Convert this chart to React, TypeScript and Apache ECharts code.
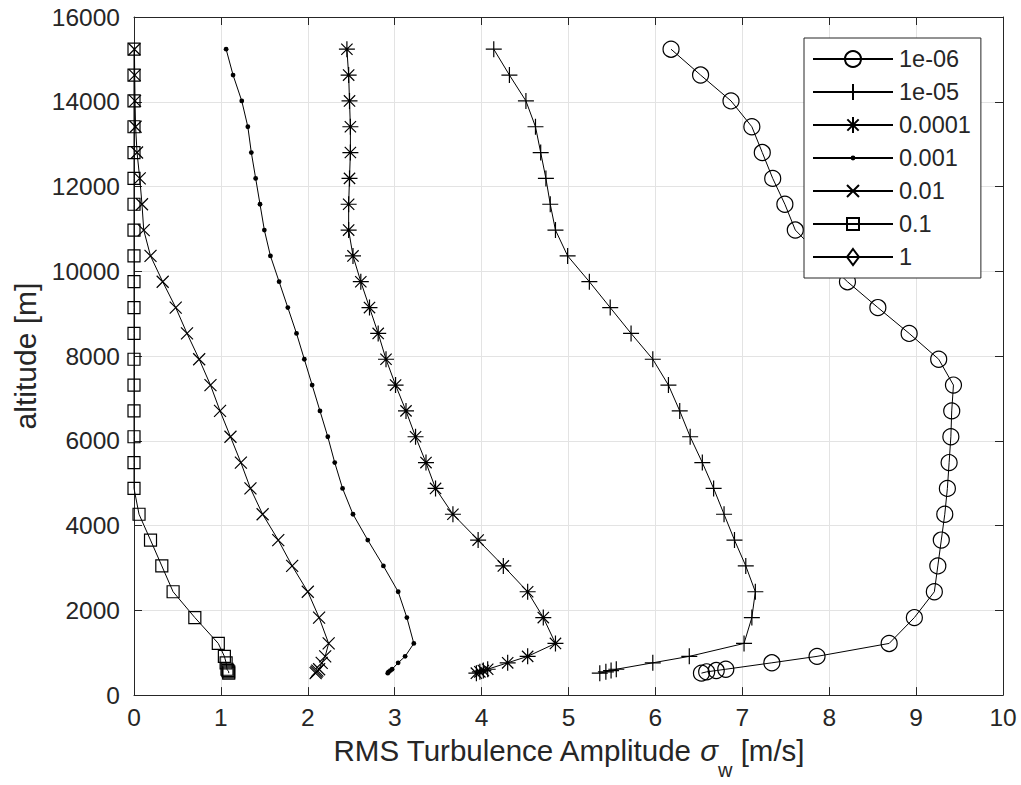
import React, { useEffect, useRef } from "react";
import * as echarts from "echarts";

// Altitudes [m] (50000 ft down to 1700 ft)
const altitude = [
  15240, 14630, 14020, 13411, 12802, 12192, 11582, 10973, 10363, 9754, 9144, 8534,
  7925, 7315, 6706, 6096, 5486, 4877, 4267, 3658, 3048, 2438, 1829, 1219, 914, 762,
  610, 579, 549, 518,
];

const seriesNames = ["1e-06", "1e-05", "0.0001", "0.001", "0.01", "0.1", "1"];

const sigma1e6 = [
  6.18, 6.52, 6.87, 7.11, 7.23, 7.35, 7.49, 7.61, 7.9, 8.21, 8.56, 8.92, 9.26, 9.43,
  9.41, 9.4, 9.38, 9.36, 9.33, 9.29, 9.25, 9.21, 8.98, 8.69, 7.86, 7.34, 6.81, 6.7,
  6.59, 6.53,
];
const sigma1e5 = [
  4.14, 4.32, 4.51, 4.62, 4.68, 4.74, 4.79, 4.85, 4.99, 5.24, 5.48, 5.72, 5.97, 6.15,
  6.28, 6.4, 6.54, 6.67, 6.79, 6.91, 7.04, 7.15, 7.11, 7.02, 6.39, 5.97, 5.55, 5.49,
  5.43, 5.36,
];
const sigma1e4 = [
  2.45, 2.47, 2.48, 2.49, 2.49, 2.48, 2.47, 2.47, 2.52, 2.61, 2.71, 2.81, 2.9, 3.01,
  3.13, 3.24, 3.36, 3.47, 3.67, 3.96, 4.25, 4.53, 4.71, 4.85, 4.53, 4.3, 4.07, 4.02,
  3.98, 3.94,
];
const sigma1e3 = [
  1.06, 1.14, 1.24, 1.31, 1.35, 1.4, 1.45, 1.5, 1.57, 1.67, 1.77, 1.87, 1.96, 2.05,
  2.14, 2.23, 2.31, 2.4, 2.52, 2.69, 2.87, 3.04, 3.14, 3.22, 3.12, 3.04, 2.97, 2.95,
  2.93, 2.92,
];
const sigma1e2 = [
  0.005, 0.008, 0.012, 0.018, 0.035, 0.066, 0.092, 0.112, 0.19, 0.33, 0.48, 0.61,
  0.75, 0.88, 0.99, 1.11, 1.23, 1.34, 1.48, 1.66, 1.82, 2.0, 2.13, 2.24, 2.2, 2.16,
  2.13, 2.11, 2.1, 2.09,
];
const sigma1e1 = [
  0, 0, 0, 0, 0, 0, 0, 0, 0, 0, 0, 0, 0, 0, 0, 0, 0, 0, 0.058, 0.19, 0.32, 0.45, 0.7,
  0.97, 1.04, 1.06, 1.07, 1.08, 1.09, 1.09,
];
const sigma1: number[] = [];

const seriesValues = [sigma1e6, sigma1e5, sigma1e4, sigma1e3, sigma1e2, sigma1e1, sigma1];

const FONT = "'Liberation Sans', Arial, Helvetica, sans-serif";
const TEXT = "#262626";
const GRID = "#e3e3e3";

const symbols = [
  "circle",
  "path://M0 -10L0 10M-10 0L10 0",
  "path://M0 -10L0 10M-10 0L10 0M-7.07 -7.07L7.07 7.07M-7.07 7.07L7.07 -7.07",
  "path://M-10 -10M10 10M3 0A3 3 0 1 1 -3 0A3 3 0 1 1 3 0Z",
  "path://M-10 -10M10 10M-7.5 -7.5L7.5 7.5M-7.5 7.5L7.5 -7.5",
  "path://M-10 -10M10 10M-7.5 -7.5L7.5 -7.5L7.5 7.5L-7.5 7.5Z",
  "path://M-10 -10M10 10M0 -10L7.5 0L0 10L-7.5 0Z",
];

export default function App() {
  const ref = useRef<HTMLDivElement>(null);
  useEffect(() => {
    if (!ref.current) return;
    const chart = echarts.init(ref.current, undefined, { renderer: "svg" });

    const series = seriesNames.map((name, i) => ({
      name,
      type: "line",
      xAxisIndex: 0,
      yAxisIndex: 0,
      data: seriesValues[i].map((v, k) => [v, altitude[k]]),
      symbol: symbols[i],
      symbolSize: 16,
      showSymbol: true,
      showAllSymbol: true,
      clip: false,
      lineStyle: { color: "#000", width: 1 },
      itemStyle: {
        color: i === 3 ? "#000" : "rgba(0,0,0,0)",
        borderColor: "#000",
        borderWidth: i === 3 ? 0 : 1.2,
      },
      emphasis: { disabled: true },
    }));

    const axisCommon = {
      type: "value",
      axisLine: { show: true, onZero: false, lineStyle: { color: TEXT, width: 1 } },
      axisTick: { show: true, inside: true, length: 8, lineStyle: { color: TEXT, width: 1 } },
    };

    chart.setOption({
      animation: false,
      backgroundColor: "#fff",
      grid: { left: 134, right: 18, top: 17, bottom: 89, containLabel: false },
      legend: {
        orient: "vertical",
        left: 804,
        top: 38,
        itemWidth: 80,
        itemHeight: 20,
        itemGap: 9,
        padding: [9, 10, 9, 8],
        backgroundColor: "#fff",
        borderColor: TEXT,
        borderWidth: 1,
        borderRadius: 0,
        selectedMode: false,
        textStyle: { fontSize: 23.5, color: TEXT, fontFamily: FONT, padding: [0, 0, 0, 1] },
        data: seriesNames,
      },
      xAxis: [
        {
          ...axisCommon,
          min: 0,
          max: 10,
          interval: 1,
          position: "bottom",
          axisLabel: { fontSize: 24.5, color: TEXT, fontFamily: FONT, margin: 10 },
          splitLine: { show: true, lineStyle: { color: GRID, width: 1 } },
          name: "{a|RMS Turbulence Amplitude }{s|σ}{w|w}{a| [m/s]}",
          nameLocation: "middle",
          nameGap: 20,
          nameTextStyle: {
            color: TEXT,
            fontFamily: FONT,
            fontSize: 29.5,
            verticalAlign: "top",
            rich: {
              a: { fontSize: 29.5, color: TEXT, fontFamily: FONT },
              s: { fontSize: 29.5, color: TEXT, fontFamily: FONT, fontStyle: "italic" },
              w: { fontSize: 20, color: TEXT, fontFamily: FONT, padding: [40, 0, 0, 0] },
            },
          },
        },
        {
          ...axisCommon,
          min: 0,
          max: 10,
          interval: 1,
          position: "top",
          axisLabel: { show: false },
          splitLine: { show: false },
        },
      ],
      yAxis: [
        {
          ...axisCommon,
          min: 0,
          max: 16000,
          interval: 2000,
          position: "left",
          axisLabel: {
            fontSize: 24.5,
            color: TEXT,
            fontFamily: FONT,
            margin: 14,
            formatter: (v: number) => String(v),
          },
          splitLine: { show: true, lineStyle: { color: GRID, width: 1 } },
          name: "altitude [m]",
          nameLocation: "middle",
          nameGap: 80,
          nameTextStyle: { color: TEXT, fontFamily: FONT, fontSize: 30 },
        },
        {
          ...axisCommon,
          min: 0,
          max: 16000,
          interval: 2000,
          position: "right",
          axisLabel: { show: false },
          splitLine: { show: false },
        },
      ],
      series,
    });
    return () => chart.dispose();
  }, []);
  return (
    <div
      ref={ref}
      style={{ position: "fixed", left: 0, top: 0, width: 1021, height: 785, background: "#fff" }}
    />
  );
}
